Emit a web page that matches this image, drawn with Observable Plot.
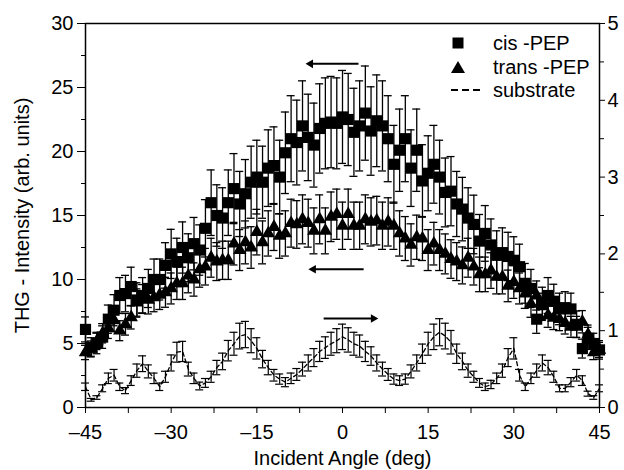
<!DOCTYPE html>
<html><head><meta charset="utf-8">
<script src="https://cdn.jsdelivr.net/npm/d3@7"></script>
<script src="https://cdn.jsdelivr.net/npm/@observablehq/plot@0.6"></script>
<style>
body{margin:0;background:#fff}
svg{font-family:"Liberation Sans",Arial,sans-serif}
</style>
</head><body><div id="chart"></div>
<script>
// Incident angle (deg)
const angles = [-45,-44,-43,-42,-41,-40,-39,-38,-37,-36,-35,-34,-33,-32,-31,-30,-29,-28,-27,-26,-25,-24,-23,-22,-21,-20,-19,-18,-17,-16,-15,-14,-13,-12,-11,-10,-9,-8,-7,-6,-5,-4,-3,-2,-1,0,1,2,3,4,5,6,7,8,9,10,11,12,13,14,15,16,17,18,19,20,21,22,23,24,25,26,27,28,29,30,31,32,33,34,35,36,37,38,39,40,41,42,43,44,45];
// cis-PEP (left axis)
const cisPEP = [6.1,4.7,5.0,5.5,6.9,7.6,8.75,8.9,9.45,8.4,8.75,9.3,10.0,10.0,11.1,12.0,11.4,12.5,11.7,12.8,12.3,14.0,16.0,15.0,14.8,16.0,17.1,15.9,16.7,17.6,18.0,17.6,18.7,18.9,18.0,19.9,21.0,20.7,22.0,21.1,20.5,21.8,22.2,22.3,22.2,22.7,22.5,21.5,22.0,23.0,21.6,22.4,22.0,21.0,19.0,20.1,21.0,18.7,20.1,17.7,18.3,19.0,18.0,16.8,16.9,15.9,15.5,14.8,14.3,13.0,13.6,12.7,11.9,12.1,11.8,11.5,11.0,9.7,9.3,6.9,8.1,8.75,8.3,7.7,7.8,7.7,6.5,4.6,5.4,5.0,4.5];
// trans-PEP (left axis)
const transPEP = [4.3,4.6,5.2,5.8,6.2,6.8,6.0,6.5,7.05,8.2,8.5,8.4,8.6,8.8,9.0,9.3,9.7,9.7,10.3,10.0,10.8,11.0,11.7,11.4,11.5,11.5,12.8,12.3,12.9,12.5,13.7,12.9,13.6,14.1,13.4,13.6,14.4,14.3,14.7,14.4,13.8,14.7,13.8,14.9,15.1,14.2,15.1,14.2,14.2,14.7,14.5,14.6,14.2,14.5,14.2,13.6,13.2,12.7,13.3,13.2,12.3,12.8,12.3,12.0,11.6,11.4,11.1,11.7,11.0,10.4,10.4,10.7,10.2,10.2,9.5,9.8,9.3,8.9,8.1,8.75,7.9,7.2,7.0,6.9,6.6,6.3,6.3,6.7,5.7,4.3,4.5];
// substrate (right axis units)
const substrate = [0.27,0.10,0.13,0.25,0.38,0.42,0.27,0.22,0.35,0.48,0.57,0.47,0.38,0.27,0.40,0.58,0.72,0.73,0.50,0.38,0.28,0.32,0.40,0.52,0.60,0.74,0.83,0.93,0.95,0.87,0.77,0.63,0.52,0.42,0.37,0.33,0.38,0.43,0.50,0.58,0.65,0.73,0.78,0.83,0.87,0.92,0.88,0.83,0.80,0.73,0.67,0.58,0.50,0.43,0.37,0.35,0.37,0.47,0.58,0.70,0.83,0.92,0.98,0.93,0.85,0.70,0.60,0.48,0.40,0.32,0.27,0.30,0.38,0.48,0.65,0.77,0.42,0.27,0.38,0.48,0.58,0.52,0.40,0.25,0.25,0.33,0.42,0.35,0.18,0.13,0.25];
// relative error bar size
const cisRelErr = 0.16, transRelErr = 0.13, subRelErr = 0.18;

const xTicks = [-45,-30,-15,0,15,30,45];
const xMinorTicks = [-37.5,-22.5,-7.5,7.5,22.5,37.5];
const yTicks = [0,5,10,15,20,25,30];
const yMinorTicks = [2.5,7.5,12.5,17.5,22.5,27.5];
const rightTicks = [0,1,2,3,4,5];
const rightMinorTicks = [0.5,1.5,2.5,3.5,4.5];
const rightToLeft = 6; // 5 right units = 30 left units
const arrows = [
  {x1: 2.8, x2: -5.6, y: 26.85},
  {x1: 3.7, x2: -5.1, y: 10.8},
  {x1: -3.3, x2: 5.4, y: 6.95}
];
const legendItems = ["cis -PEP", "trans -PEP", "substrate"];

const cis = angles.map((a, i) => ({a, v: cisPEP[i], e: cisPEP[i] * cisRelErr}));
const trans = angles.map((a, i) => ({a, v: transPEP[i], e: transPEP[i] * transRelErr}));
const sub = angles.map((a, i) => ({a, v: substrate[i] * rightToLeft, e: substrate[i] * rightToLeft * subRelErr}));

const cap = 0.7;
function errorBars(data, sw) {
  return [
    Plot.ruleX(data, {x: "a", y1: d => d.v - d.e, y2: d => d.v + d.e, stroke: "#000", strokeWidth: sw}),
    Plot.ruleY(data, {y: d => d.v + d.e, x1: d => d.a - cap, x2: d => d.a + cap, stroke: "#000", strokeWidth: sw}),
    Plot.ruleY(data, {y: d => d.v - d.e, x1: d => d.a - cap, x2: d => d.a + cap, stroke: "#000", strokeWidth: sw})
  ];
}

function legend(index, scales, values, dims) {
  const g = d3.create("svg:g");
  const right = dims.width - dims.marginRight;
  const top = dims.marginTop;
  const sx = right - 141, tx = right - 106;
  g.append("rect").attr("x", sx - 5.5).attr("y", top + 20 - 5.5).attr("width", 11).attr("height", 11).attr("fill", "#000");
  g.append("path").attr("d", `M${sx},${top + 38} L${sx + 7},${top + 50} L${sx - 7},${top + 50} Z`).attr("fill", "#000");
  g.append("line").attr("x1", sx - 7).attr("x2", sx + 23).attr("y1", top + 67).attr("y2", top + 67)
    .attr("stroke", "#000").attr("stroke-width", 2).attr("stroke-dasharray", "7,4");
  legendItems.forEach((t, i) => {
    g.append("text").attr("x", tx).attr("y", top + 20 + i * 23.5).attr("dy", "0.35em")
      .attr("text-anchor", "start").attr("font-size", 20).attr("fill", "#000").text(t);
  });
  return g.node();
}

const chart = Plot.plot({
  width: 624, height: 470,
  marginLeft: 85, marginRight: 25, marginTop: 23, marginBottom: 63,
  style: {fontFamily: '"Liberation Sans", Arial, sans-serif', fontSize: "20px", color: "#000", background: "#fff"},
  x: {domain: [-45, 45], label: null},
  y: {domain: [0, 30], label: null},
  marks: [
    Plot.frame({stroke: "#000", strokeWidth: 1.5}),
    Plot.axisX(xTicks, {tickSize: 6, tickPadding: 11, fontSize: 20, label: null, tickFormat: d => d < 0 ? "\u2013" + Math.abs(d) : String(d)}),
    Plot.axisX(xMinorTicks, {tickSize: 6, label: null, tickFormat: () => ""}),
    Plot.axisY(yTicks, {tickSize: 8, tickPadding: 4, fontSize: 20, label: null}),
    Plot.axisY(yMinorTicks, {tickSize: 4, label: null, tickFormat: () => ""}),
    Plot.axisY(rightTicks.map(d => d * rightToLeft), {anchor: "right", tickSize: 5, tickPadding: 3, fontSize: 20, label: null, tickFormat: d => String(d / rightToLeft)}),
    Plot.axisY(rightMinorTicks.map(d => d * rightToLeft), {anchor: "right", tickSize: 4, label: null, tickFormat: () => ""}),
    // substrate
    Plot.line(sub, {x: "a", y: "v", stroke: "#000", strokeWidth: 1.3, strokeDasharray: "4,3"}),
    ...errorBars(sub, 1.2),
    // trans
    ...errorBars(trans, 1.3),
    Plot.dot(trans, {x: "a", y: "v", symbol: "triangle", r: 5, fill: "#000", stroke: "none"}),
    // cis
    ...errorBars(cis, 1.3),
    Plot.dot(cis, {x: "a", y: "v", symbol: "square", r: 6.3, fill: "#000", stroke: "none"}),
    // annotation arrows
    Plot.link(arrows, {x1: "x1", x2: "x2", y1: "y", y2: "y", stroke: "#000", strokeWidth: 2}),
    Plot.dot(arrows, {x: "x2", y: "y", symbol: "triangle", r: 3.2, rotate: d => d.x2 < d.x1 ? -90 : 90, fill: "#000", stroke: "none"}),
    legend,
    Plot.text(["Incident Angle (deg)"], {frameAnchor: "bottom", lineAnchor: "middle", dy: 51, fontSize: 20, fill: "#000"}),
    Plot.text(["THG - Intensity (arb. units)"], {frameAnchor: "left", textAnchor: "middle", dx: -63, rotate: -90, fontSize: 20, fill: "#000"})
  ]
});
document.getElementById("chart").appendChild(chart);
</script>
</body></html>
